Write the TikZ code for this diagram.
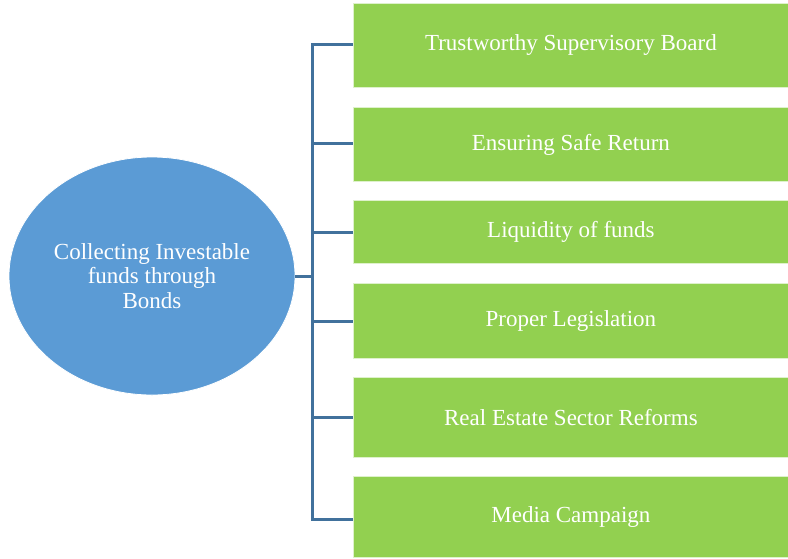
\documentclass[tikz,border=0pt]{standalone}
\usepackage{fontspec}
\setmainfont{Liberation Serif}
\usetikzlibrary{shapes.geometric}
\definecolor{boxgreen}{HTML}{92D050}
\definecolor{ellblue}{HTML}{5B9BD5}
\definecolor{linkblue}{HTML}{41719C}
\begin{document}
\begin{tikzpicture}[x=1pt,y=-1pt,
  item/.style={draw=white!70!boxgreen, line width=0.8pt, fill=boxgreen, text=white, font=\fontsize{23}{24}\selectfont, anchor=north west, inner sep=0pt, align=center},
  link/.style={draw=linkblue, line width=3pt}]
\useasboundingbox (0,0) rectangle (788,558);
\node[ellipse, draw=white, line width=0.8pt, fill=ellblue, text=white, minimum width=286pt, minimum height=238pt, inner sep=0pt, align=center, font=\fontsize{23}{24.5}\selectfont] (c) at (152,276) {Collecting Investable\\funds through\\Bonds};
\node[item, minimum width=435pt, minimum height=84pt] (b1) at (353,3) {Trustworthy Supervisory Board};
\node[item, minimum width=435pt, minimum height=74pt] (b2) at (353,107) {Ensuring Safe Return};
\node[item, minimum width=435pt, minimum height=63pt] (b3) at (353,200) {Liquidity of funds};
\node[item, minimum width=435pt, minimum height=75pt] (b4) at (353,283) {Proper Legislation};
\node[item, minimum width=435pt, minimum height=80pt] (b5) at (353,377) {Real Estate Sector Reforms};
\node[item, minimum width=435pt, minimum height=81pt] (b6) at (353,476) {Media Campaign};
\coordinate (hub) at (312,276);
\draw[link] (c.east) -- (hub);
\draw[link, line cap=rect] (312,44) -- (312,519);
\foreach \n/\y in {b1/44,b2/143,b3/232,b4/321,b5/417,b6/519}
  \draw[link] (312,\y) -- (\n.west |- 0,\y);
\end{tikzpicture}
\end{document}
